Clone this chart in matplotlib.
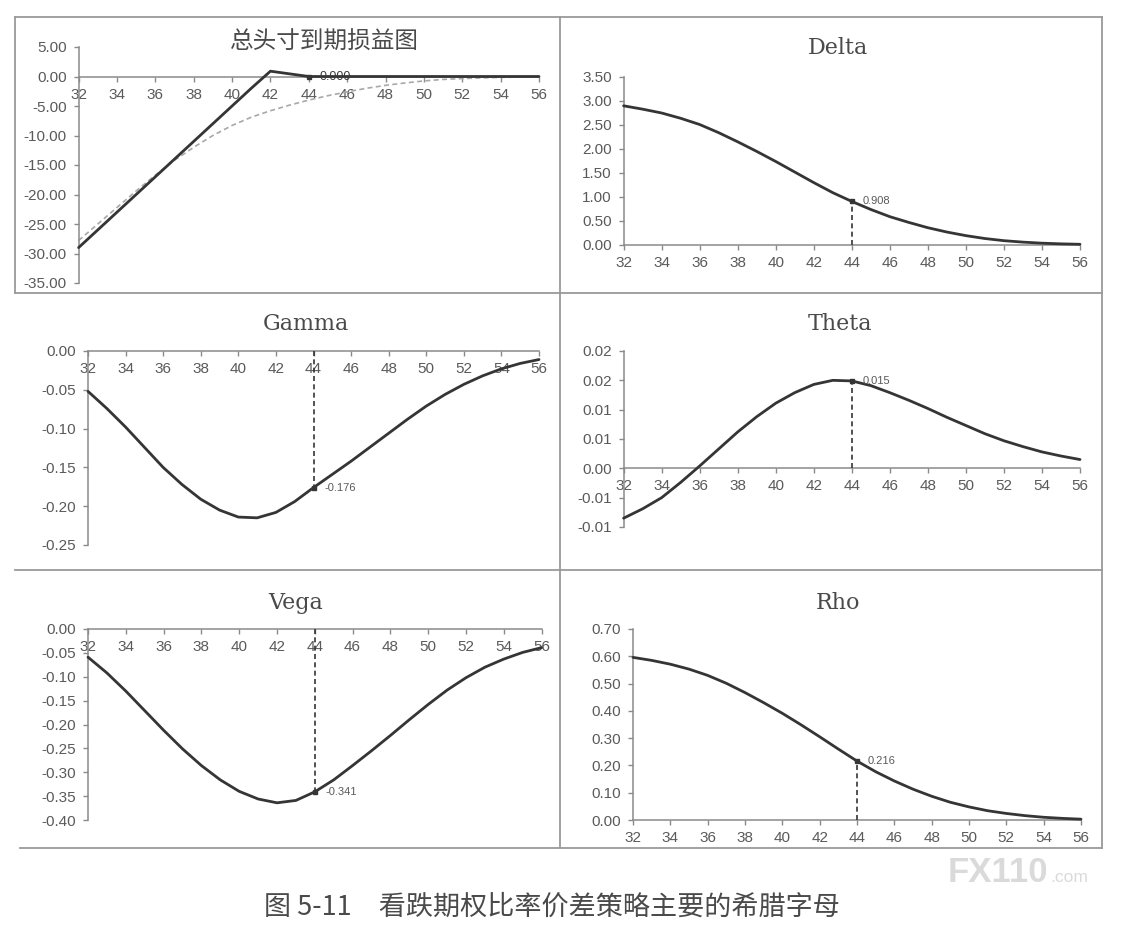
#!/usr/bin/env python3
"""
看跌期权比率价差策略的希腊字母 (图 5-11) — 2x3 面板重绘
"""
import matplotlib
matplotlib.use("Agg")
import matplotlib.pyplot as plt
from matplotlib.lines import Line2D
from matplotlib.ticker import FormatStrFormatter, MultipleLocator

plt.rcParams["font.family"] = ["Liberation Sans", "Noto Sans CJK SC", "DejaVu Sans"]

# ---- data ------------------------------------------------------------------
price = list(range(32, 57))

payoff = [-29, -26, -23, -20, -17, -14, -11, -8, -5, -2, 0.9, 0.45, 0,
          0, 0, 0, 0, 0, 0, 0, 0, 0, 0, 0, 0]
value_now = [-27.8, -25.0, -22.2, -19.4, -16.7, -14.2, -12.0, -10.0, -8.3,
             -6.9, -5.8, -4.85, -4.0, -3.25, -2.6, -2.0, -1.5, -1.1, -0.75,
             -0.5, -0.35, -0.24, -0.15, -0.09, -0.05]

delta = [2.90, 2.83, 2.75, 2.64, 2.51, 2.34, 2.15, 1.95, 1.74, 1.52, 1.30,
         1.09, 0.908, 0.74, 0.59, 0.47, 0.36, 0.27, 0.195, 0.135, 0.09,
         0.06, 0.038, 0.024, 0.015]

gamma = [-0.052, -0.074, -0.098, -0.124, -0.150, -0.172, -0.191, -0.205,
         -0.214, -0.215, -0.208, -0.194, -0.176, -0.159, -0.142, -0.124,
         -0.106, -0.088, -0.071, -0.056, -0.043, -0.032, -0.023, -0.016,
         -0.011]

theta = [-0.0085, -0.0069, -0.0050, -0.0024, 0.0004, 0.0033, 0.0062, 0.0088,
         0.0111, 0.0129, 0.0143, 0.0150, 0.0149, 0.0141, 0.0129, 0.0116,
         0.0102, 0.0087, 0.0073, 0.0059, 0.0047, 0.0037, 0.0028, 0.0021,
         0.0015]

vega = [-0.059, -0.092, -0.130, -0.171, -0.212, -0.251, -0.286, -0.316,
        -0.340, -0.356, -0.364, -0.359, -0.341, -0.316, -0.286, -0.255,
        -0.223, -0.190, -0.158, -0.128, -0.102, -0.080, -0.063, -0.049,
        -0.039]

rho = [0.596, 0.585, 0.571, 0.553, 0.530, 0.501, 0.467, 0.430, 0.391, 0.349,
       0.305, 0.260, 0.216, 0.177, 0.143, 0.113, 0.087, 0.065, 0.048, 0.034,
       0.024, 0.016, 0.010, 0.006, 0.003]

spot = 44
labels_at_spot = {"payoff": "0.000", "delta": "0.908", "gamma": "-0.176",
                  "theta": "0.015", "vega": "-0.341", "rho": "0.216"}

theta_ticks = [-0.010, -0.005, 0.0, 0.005, 0.010, 0.015, 0.020]
theta_ticklabels = ["-0.01", "-0.01", "0.00", "0.01", "0.01", "0.02", "0.02"]

caption = "图 5-11　看跌期权比率价差策略主要的希腊字母"

# ---- figure ----------------------------------------------------------------
W, H = 1145, 932
fig = plt.figure(figsize=(W / 100, H / 100), dpi=100, facecolor="white")

AX_GREY = "#8a8a8a"
TXT_GREY = "#5a5a5a"
CURVE = "#353535"


def rect(l, t, r, b):
    return [l / W, 1 - b / H, (r - l) / W, (b - t) / H]


def style(ax, ylim, ystep, fmt="%.2f"):
    ax.set_xlim(32, 56)
    ax.set_ylim(*ylim)
    ax.xaxis.set_major_locator(MultipleLocator(2))
    ax.yaxis.set_major_locator(MultipleLocator(ystep))
    ax.yaxis.set_major_formatter(FormatStrFormatter(fmt))
    for s in ("top", "right"):
        ax.spines[s].set_visible(False)
    ax.spines["bottom"].set_position(("data", 0))
    for s in ("bottom", "left"):
        ax.spines[s].set_color(AX_GREY)
        ax.spines[s].set_linewidth(1.1)
    ax.tick_params(axis="both", direction="out", length=3.5, width=1.0,
                   color=AX_GREY, labelcolor=TXT_GREY, labelsize=11)
    ax.tick_params(axis="x", pad=4.5)
    ax.tick_params(axis="y", pad=5)
    ax.patch.set_alpha(0)


def curve(ax, ys, **kw):
    ax.plot(price, ys, color=CURVE, lw=2.0, zorder=3, clip_on=False,
            solid_joinstyle="round", solid_capstyle="round", **kw)


def title(x, y, s, cjk=False):
    if cjk:
        fig.text(x / W, 1 - y / H, s, ha="center", va="center", fontsize=17,
                 color="#4a4a4a", family=["Noto Sans CJK SC"])
    else:
        fig.text(x / W, 1 - y / H, s, ha="center", va="center", fontsize=16,
                 color="#4a4a4a", family=["DejaVu Serif"])


def mark_spot(ax, series, key, dashed=True, size=8, color=TXT_GREY):
    v = series[price.index(spot)]
    if dashed:
        ax.plot([spot, spot], [0, v], ls="--", color=CURVE, lw=1.2,
                dashes=(3, 2), zorder=3)
    ax.plot([spot], [v], marker="s", ms=3, color=CURVE, zorder=4)
    ax.annotate(labels_at_spot[key], (spot, v), xytext=(8, 0),
                textcoords="offset points", va="center", ha="left",
                fontsize=size, color=color)


# 总头寸到期损益图
ax = fig.add_axes(rect(78.6, 47, 539, 283))
style(ax, (-35, 5), 5)
ax.plot(price, value_now, ls="--", color="#a8a8a8", lw=1.2, dashes=(3, 2),
        zorder=2, clip_on=False)
curve(ax, payoff)
mark_spot(ax, payoff, "payoff", dashed=False, size=9, color="#3a3a3a")
title(324, 42, "总头寸到期损益图", cjk=True)

# Delta
ax = fig.add_axes(rect(623.6, 77, 1080, 245))
style(ax, (0, 3.5), 0.5)
curve(ax, delta)
mark_spot(ax, delta, "delta")
title(838, 48, "Delta")

# Gamma
ax = fig.add_axes(rect(88, 351, 539, 545))
style(ax, (-0.25, 0), 0.05)
curve(ax, gamma)
mark_spot(ax, gamma, "gamma")
title(306, 324, "Gamma")

# Theta
ax = fig.add_axes(rect(623.6, 351, 1080, 527))
style(ax, (-0.010, 0.020), 0.005)
ax.set_yticks(theta_ticks)
ax.set_yticklabels(theta_ticklabels)
curve(ax, theta)
mark_spot(ax, theta, "theta")
title(840, 324, "Theta")

# Vega
ax = fig.add_axes(rect(88, 629, 541.6, 820))
style(ax, (-0.40, 0), 0.05)
curve(ax, vega)
mark_spot(ax, vega, "vega")
title(296, 603, "Vega")

# Rho
ax = fig.add_axes(rect(633, 629, 1081, 820))
style(ax, (0, 0.70), 0.10)
curve(ax, rho)
mark_spot(ax, rho, "rho")
title(838, 603, "Rho")

# panel frame lines (pixel coords)
frame = [((15, 17), (1102, 17)), ((15, 17), (15, 293)),
         ((560, 17), (560, 848)), ((1102, 17), (1102, 848)),
         ((15, 293), (1102, 293)), ((15, 570), (1102, 570)),
         ((20, 848), (1102, 848))]
for (x0, y0), (x1, y1) in frame:
    fig.add_artist(Line2D([x0 / W, x1 / W], [1 - y0 / H, 1 - y1 / H],
                          transform=fig.transFigure, color="#9a9a9a", lw=1.3))

# watermark
fig.text(948 / W, 1 - 882 / H, "FX110", ha="left", va="baseline",
         fontsize=25, fontweight="bold", color="#dadada",
         family=["Liberation Sans"])
fig.text(1050 / W, 1 - 882 / H, ".com", ha="left", va="baseline",
         fontsize=12.5, color="#dadada", family=["Liberation Sans"])

# caption
fig.text(552 / W, 1 - 907 / H, caption, ha="center", va="center",
         fontsize=19.5, color="#4a4a4a",
         family=["Noto Sans CJK SC", "DejaVu Sans"])

fig.savefig("out.png", dpi=100, facecolor="white")
plt.close(fig)
